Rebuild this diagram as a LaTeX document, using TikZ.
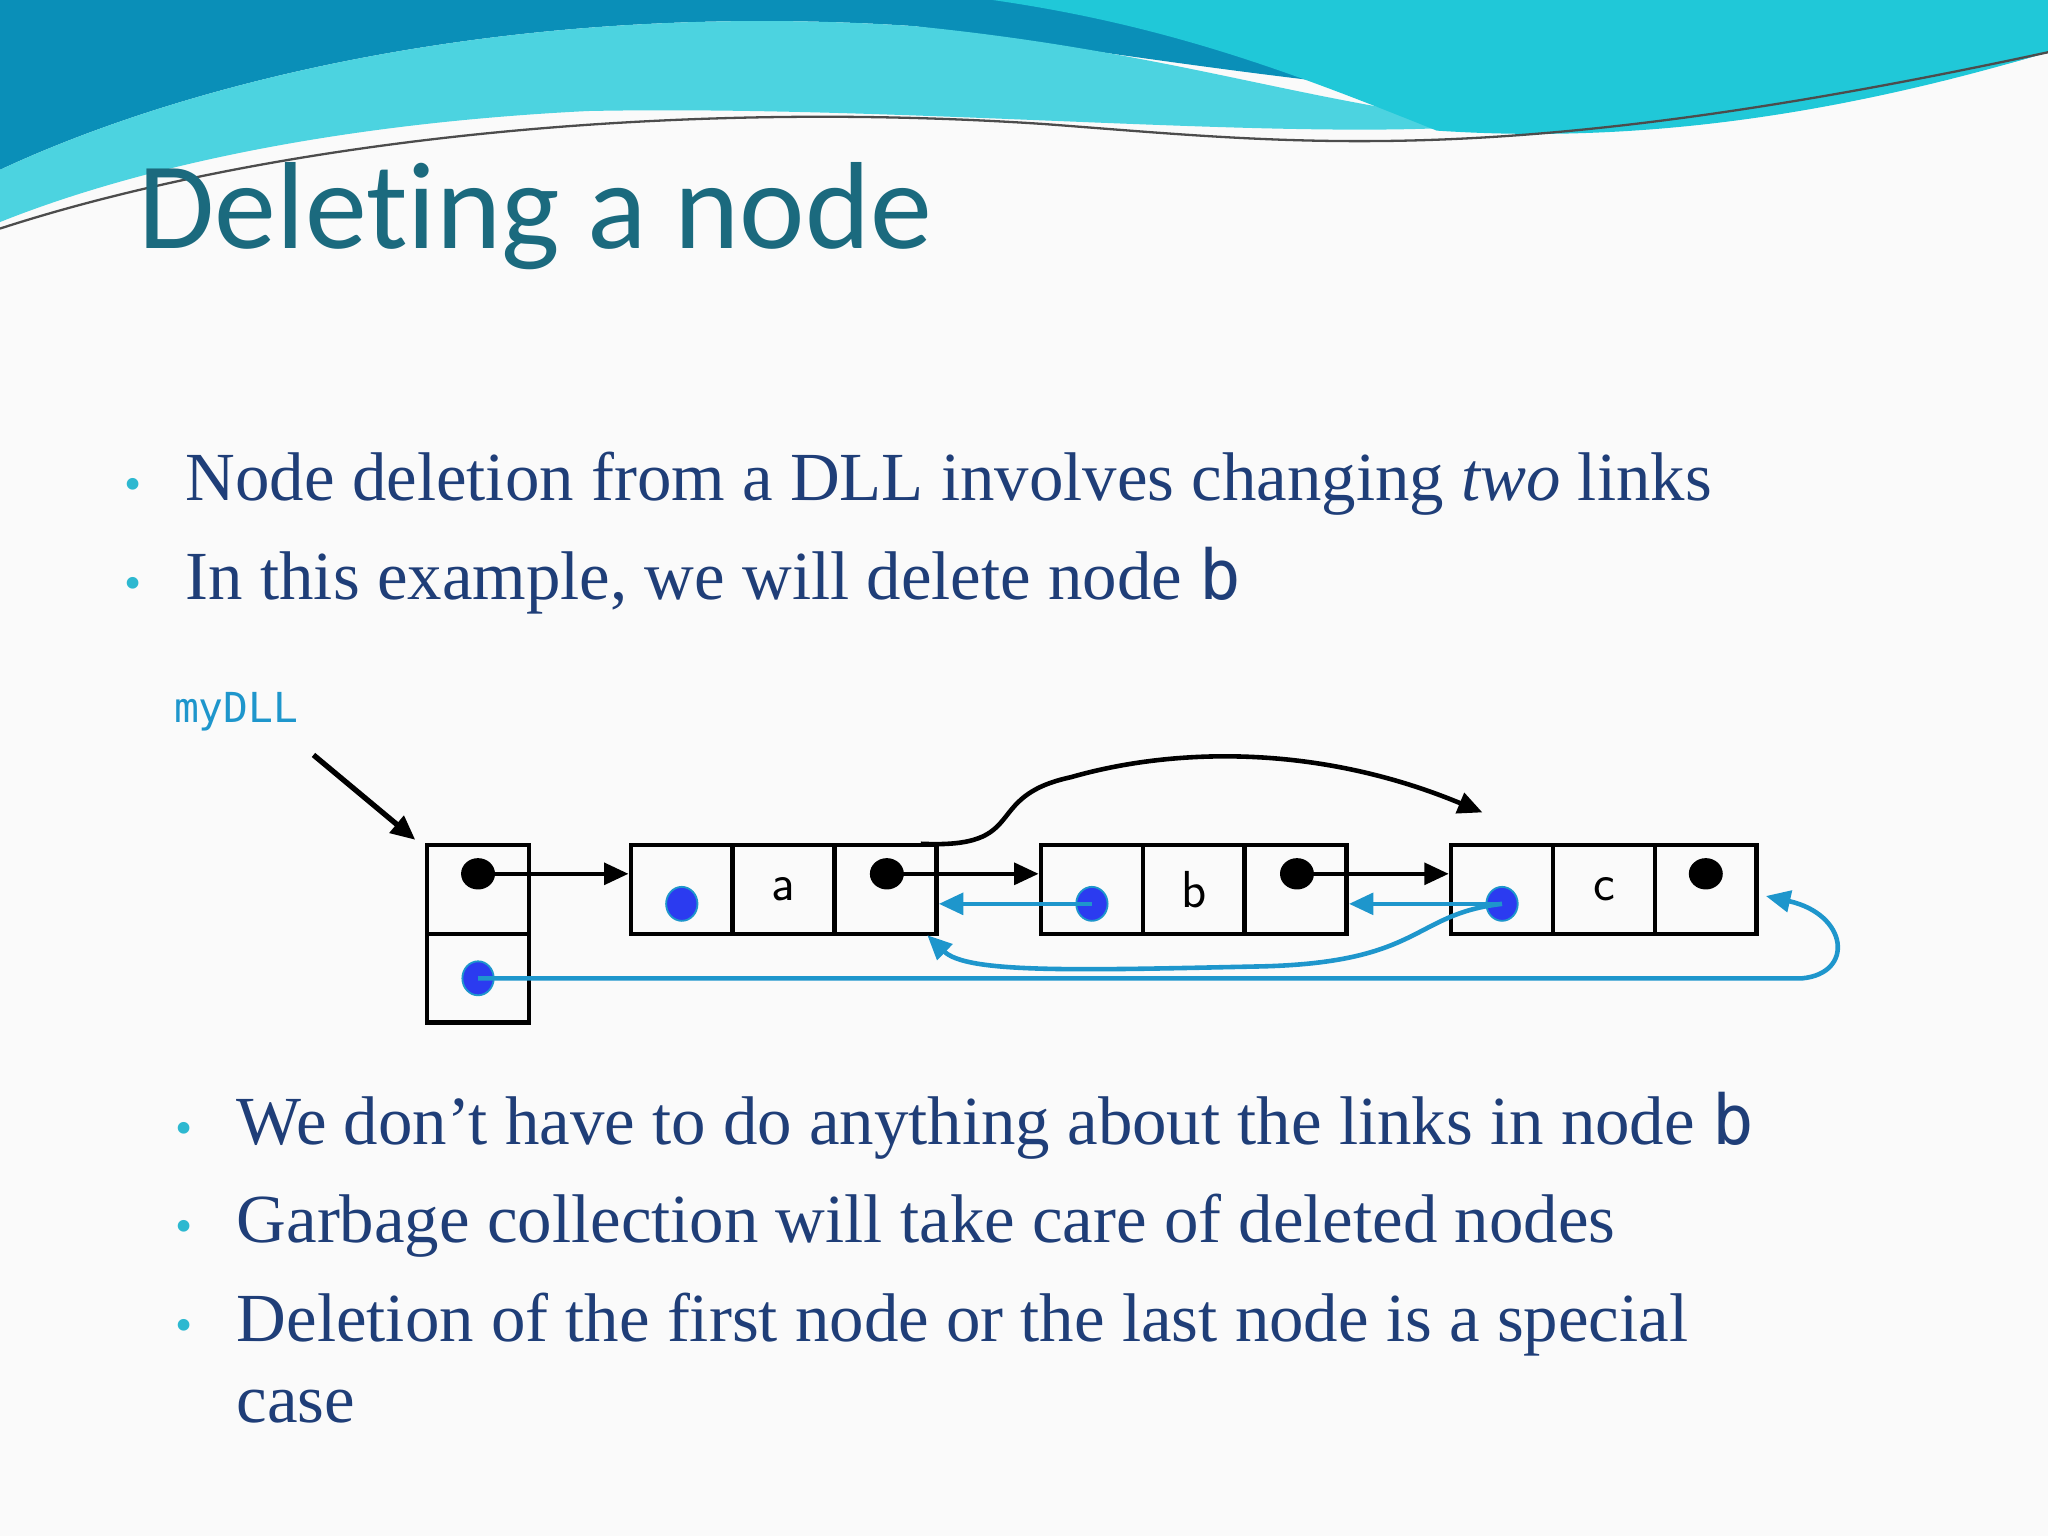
\documentclass[tikz,border=0pt]{standalone}
\usepackage{fontspec}
\setmainfont{Liberation Serif}
\newfontfamily\titlefont[Ligatures=NoCommon]{Carlito}
\newfontfamily\monof{DejaVu Sans Mono}
\usetikzlibrary{arrows.meta,shapes.geometric}
\definecolor{titlec}{HTML}{1B6A7E}
\definecolor{bodyc}{HTML}{1F3E78}
\definecolor{bulc}{HTML}{2DB8D0}
\definecolor{linkc}{HTML}{1E96CC}
\definecolor{dotb}{HTML}{2B3BF0}
\definecolor{wave1}{HTML}{0A8FB8}
\definecolor{wave2}{HTML}{20C8D8}
\begin{document}
\begin{tikzpicture}[x=0.3mm,y=-0.3mm,
  body/.style={anchor=base west,inner sep=0,text=bodyc,font=\fontsize{45}{54}\selectfont},
  bul/.style={anchor=base west,inner sep=0,text=bulc,font=\fontsize{32}{38}\selectfont},
  cell/.style={draw,line width=3pt,minimum width=78*0.3mm,minimum height=68*0.3mm,inner sep=0,font=\sffamily\fontsize{34}{40}\selectfont},
  bdot/.style={fill=black,ellipse,minimum width=26*0.3mm,minimum height=24*0.3mm,inner sep=0},
  udot/.style={fill=dotb,draw=linkc,line width=1.2pt,ellipse,minimum width=24*0.3mm,minimum height=26*0.3mm,inner sep=0},
  blk/.style={line width=3pt,-{Triangle[length=16pt,width=14pt]}},
  blu/.style={line width=3pt,linkc,-{Triangle[length=16pt,width=14pt]}}]
\useasboundingbox (0,0) rectangle (1568,1176);
\fill[white!96!gray] (0,0) rectangle (1568,1176);
% header waves
\fill[wave1] (0,0) -- (1568,0) -- (1568,40) .. controls (1300,120) and (1000,60) .. (700,20) .. controls (400,0) and (150,60) .. (0,130) -- cycle;
\fill[wave2!80!white] (0,130) .. controls (150,60) and (400,0) .. (700,20) .. controls (900,40) and (1000,80) .. (1150,95) .. controls (1000,110) and (700,80) .. (450,85) .. controls (250,95) and (100,130) .. (0,170) -- cycle;
\fill[wave2] (760,0) -- (1568,0) -- (1568,40) .. controls (1400,90) and (1250,110) .. (1100,100) .. controls (1000,60) and (900,20) .. (760,0) -- cycle;
\draw[black!70,line width=1.5pt] (0,175) .. controls (200,110) and (500,75) .. (800,95) .. controls (1000,110) and (1150,130) .. (1568,40);
% title
\node[anchor=base west,inner sep=0,text=titlec,font=\titlefont\fontsize{81}{90}\selectfont] (title) at (106,190) {Deleting a node};
% bullets
\node[bul] (b1) at (95,383) {•};
\node[body] (t1) at (142,383) {Node deletion from a DLL involves changing \textit{two} links};
\node[bul] (b2) at (95,459) {•};
\node[body] (t2) at (142,459) {In this example, we will delete node {\monof b}};
\node[bul] (b3) at (134,876) {•};
\node[body] (t3) at (181,876) {We don’t have to do anything about the links in node {\monof b}};
\node[bul] (b4) at (134,951) {•};
\node[body] (t4) at (181,951) {Garbage collection will take care of deleted nodes};
\node[bul] (b5) at (134,1027) {•};
\node[body] (t5) at (181,1027) {Deletion of the first node or the last node is a special};
\node[body] (t6) at (181,1089) {case};
% myDLL
\node[anchor=base west,inner sep=0,text=linkc,font=\monof\fontsize{27}{32}\selectfont] (my) at (133,553) {myDLL};
\coordinate (myA) at (240,578);
% header cell
\node[cell] (h1) at (366,681) {};
\node[cell] (h2) at (366,749) {};
\draw[line width=3.5pt,-{Triangle[length=16pt,width=14pt]}] (myA) -- (318,643);
% nodes
\foreach \n/\x/\l in {a/483/a,b/797/b,c/1111/c}{
  \node[cell] (\n1) at (\x+39,681) {};
  \node[cell] (\n2) at (\x+117,681) {\l};
  \node[cell] (\n3) at (\x+195,681) {};
}
\node[bdot] (hd) at (366,669) {};
\node[udot] (hp) at (366,749) {};
\node[udot] (ap) at (522,692) {};
\node[bdot] (an) at (679,669) {};
\node[udot] (bp) at (836,692) {};
\node[bdot] (bn) at (993,669) {};
\node[udot] (cp) at (1150,692) {};
\node[bdot] (cn) at (1306,669) {};
% links
\draw[blk] (hd.center) -- (a1.west|-hd);
\draw[blk] (an.center) -- (b1.west|-an);
\draw[blk] (bn.center) -- (c1.west|-bn);
\draw[blu] (bp.center) -- (a3.east|-bp);
\draw[blu] (cp.center) -- (b3.east|-cp);
\draw[blk] (705,646) .. controls (790,650) and (750,610) .. (820,595) .. controls (900,572) and (1010,570) .. (1135,622);
\draw[blu] (cp.center) .. controls (1080,700) and (1090,738) .. (960,740) .. controls (820,743) and (740,745) .. (710,716);
\draw[blu] (hp.center) -- (1380,749) .. controls (1420,745) and (1415,700) .. (1352,686);
\end{tikzpicture}
\end{document}
